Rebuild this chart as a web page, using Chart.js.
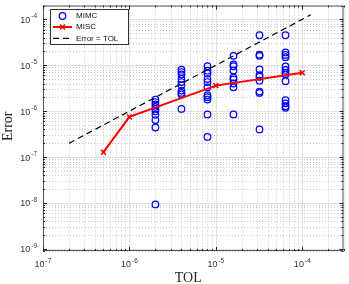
<!DOCTYPE html>
<html><head><meta charset="utf-8">
<script src="https://cdn.jsdelivr.net/npm/chart.js@4/dist/chart.umd.min.js"></script>
<style>html,body{margin:0;padding:0;background:#fff;}#wrap{width:349px;height:284px;position:relative;}</style>
</head><body><div id="wrap"><canvas id="c" width="349" height="284"></canvas></div>
<script>
// ---- data ----
const tolMIMC = [2e-6, 4e-6, 8e-6, 1.6e-5, 3.2e-5, 6.4e-5];
const errMIMC_tol1 = [1.79e-6, 1.58e-6, 1.40e-6, 1.24e-6, 1.12e-6, 9.9e-7, 8.3e-7, 6.4e-7, 4.4e-7, 9.3e-9];
const errMIMC_tol2 = [8.0e-6, 7.1e-6, 6.3e-6, 5.0e-6, 4.3e-6, 3.7e-6, 2.8e-6, 2.5e-6, 2.3e-6, 1.12e-6];
const errMIMC_tol3 = [9.5e-6, 7.6e-6, 6.6e-6, 5.0e-6, 4.3e-6, 3.3e-6, 2.23e-6, 2.02e-6, 1.79e-6, 8.5e-7, 2.75e-7];
const errMIMC_tol4 = [1.6e-5, 1.04e-5, 9.5e-6, 7.7e-6, 5.4e-6, 4.9e-6, 4.0e-6, 3.3e-6, 8.5e-7];
const errMIMC_tol5 = [4.5e-5, 1.7e-5, 1.6e-5, 8.1e-6, 6.1e-6, 5.6e-6, 4.6e-6, 2.67e-6, 2.5e-6, 4.0e-7];
const errMIMC_tol6 = [4.5e-5, 1.9e-5, 1.68e-5, 1.5e-5, 9.4e-6, 7.9e-6, 6.9e-6, 6.3e-6, 4.5e-6, 1.74e-6, 1.48e-6, 1.28e-6, 1.18e-6];
const errMIMC = [errMIMC_tol1, errMIMC_tol2, errMIMC_tol3, errMIMC_tol4, errMIMC_tol5, errMIMC_tol6];

const tolMISC = [5e-7, 1e-6, 1e-5, 1e-4];
const errMISC = [1.28e-7, 7.5e-7, 3.6e-6, 6.9e-6];

const tolRef = [2e-7, 1.25e-4];   // Error = TOL

const xRange = [1e-7, 3e-4];
const yRange = [9e-10, 2e-4];
const labels = ['MIMC', 'MISC', 'Error = TOL'];
const xTitle = 'TOL';
const yTitle = 'Error';

// ---- build ----
const mimcPts = [];
tolMIMC.forEach((t, i) => errMIMC[i].forEach(e => mimcPts.push({x: t, y: e})));
const miscPts = tolMISC.map((t, i) => ({x: t, y: errMISC[i]}));
const refPts = tolRef.map(t => ({x: t, y: t}));

const SANS = '"Liberation Sans", Arial, Helvetica, sans-serif';
const SERIF = '"Liberation Serif", "Times New Roman", serif';
const AXC = '#262626';

function logVals(sc) {
  const out = [];
  const n0 = Math.floor(Math.log10(sc.min)), n1 = Math.ceil(Math.log10(sc.max));
  for (let n = n0; n <= n1; n++) for (let m = 1; m <= 9; m++) {
    const v = m * Math.pow(10, n);
    if (v >= sc.min * 0.9999 && v <= sc.max * 1.0001) out.push({v, n, major: m === 1});
  }
  return out;
}

function drawPow(ctx, n, x, y, mode) {
  const base = '10', sup = String(n);
  ctx.font = '9px ' + SANS;
  const wb = ctx.measureText(base).width;
  ctx.font = '6.5px ' + SANS;
  const ws = ctx.measureText(sup).width;
  const tot = wb + ws + 1;
  let x0 = mode === 'center' ? x - tot / 2 : x - tot;
  ctx.fillStyle = '#333';
  ctx.textAlign = 'left';
  ctx.textBaseline = 'alphabetic';
  ctx.font = '9px ' + SANS;
  ctx.fillText(base, x0, y);
  ctx.font = '6.5px ' + SANS;
  ctx.fillText(sup, x0 + wb + 1, y - 4.5);
}

const matlabAxes = {
  id: 'matlabAxes',
  beforeDatasetsDraw(chart) {
    const {ctx, chartArea: a, scales} = chart;
    const xs = scales.x, ys = scales.y;
    ctx.save();
    ctx.lineWidth = 1;
    ctx.setLineDash([1, 2]);
    ctx.strokeStyle = '#c8c8c8';
    logVals(xs).filter(t => !t.major).forEach(t => {
      const p = Math.round(xs.getPixelForValue(t.v)) + 0.5;
      ctx.beginPath(); ctx.moveTo(p, a.top); ctx.lineTo(p, a.bottom); ctx.stroke();
    });
    logVals(ys).filter(t => !t.major).forEach(t => {
      const p = Math.round(ys.getPixelForValue(t.v)) + 0.5;
      ctx.beginPath(); ctx.moveTo(a.left, p); ctx.lineTo(a.right, p); ctx.stroke();
    });
    ctx.setLineDash([]);
    ctx.strokeStyle = '#e0e0e0';
    logVals(xs).filter(t => t.major).forEach(t => {
      const p = Math.round(xs.getPixelForValue(t.v)) + 0.5;
      ctx.beginPath(); ctx.moveTo(p, a.top); ctx.lineTo(p, a.bottom); ctx.stroke();
    });
    logVals(ys).filter(t => t.major).forEach(t => {
      const p = Math.round(ys.getPixelForValue(t.v)) + 0.5;
      ctx.beginPath(); ctx.moveTo(a.left, p); ctx.lineTo(a.right, p); ctx.stroke();
    });
    ctx.restore();
  },
  afterDatasetsDraw(chart) {
    const {ctx, chartArea: a, scales} = chart;
    const xs = scales.x, ys = scales.y;
    ctx.save();
    ctx.strokeStyle = '#555';
    ctx.lineWidth = 1;
    ctx.strokeRect(a.left + 0.5, a.top + 0.5, a.right - a.left - 1, a.bottom - a.top - 1);
    ctx.strokeStyle = AXC;
    logVals(xs).forEach(t => {
      const p = Math.round(xs.getPixelForValue(t.v)) + 0.5;
      const L = t.major ? 4 : 2;
      ctx.beginPath();
      ctx.moveTo(p, a.bottom); ctx.lineTo(p, a.bottom - L);
      ctx.moveTo(p, a.top); ctx.lineTo(p, a.top + L);
      ctx.stroke();
    });
    logVals(ys).forEach(t => {
      const p = Math.round(ys.getPixelForValue(t.v)) + 0.5;
      const L = t.major ? 4 : 2;
      ctx.beginPath();
      ctx.moveTo(a.left, p); ctx.lineTo(a.left + L, p);
      ctx.moveTo(a.right, p); ctx.lineTo(a.right - L, p);
      ctx.stroke();
    });
    logVals(xs).filter(t => t.major).forEach(t => {
      drawPow(ctx, t.n, xs.getPixelForValue(t.v), a.bottom + 16, 'center');
    });
    logVals(ys).filter(t => t.major).forEach(t => {
      drawPow(ctx, t.n, a.left - 6, ys.getPixelForValue(t.v) + 3.5, 'right');
    });
    ctx.fillStyle = AXC;
    ctx.font = '14px ' + SERIF;
    ctx.textAlign = 'center';
    ctx.textBaseline = 'alphabetic';
    ctx.fillText(xTitle, (a.left + a.right) / 2 - 5, 282);
    ctx.save();
    ctx.translate(12, (a.top + a.bottom) / 2 - 2);
    ctx.rotate(-Math.PI / 2);
    ctx.fillText(yTitle, 0, 0);
    ctx.restore();
    // legend
    const lx = 50.5, ly = 9.5, lw = 78, lh = 35;
    ctx.fillStyle = '#fff';
    ctx.fillRect(lx, ly, lw, lh);
    ctx.strokeStyle = '#333';
    ctx.lineWidth = 1;
    ctx.strokeRect(lx, ly, lw, lh);
    const rows = [16, 27, 38.3];
    const ds = chart.data.datasets;
    const byLabel = l => ds.find(d => d.label === l);
    ctx.font = '8px ' + SANS;
    ctx.textAlign = 'left';
    ctx.textBaseline = 'middle';
    let d = byLabel(labels[0]);
    ctx.strokeStyle = d.borderColor; ctx.lineWidth = 1.2;
    ctx.beginPath(); ctx.arc(62.5, rows[0], 3.3, 0, Math.PI * 2); ctx.stroke();
    d = byLabel(labels[1]);
    ctx.strokeStyle = d.borderColor; ctx.lineWidth = 2;
    ctx.beginPath(); ctx.moveTo(53, rows[1]); ctx.lineTo(72, rows[1]); ctx.stroke();
    ctx.lineWidth = 1.5;
    Chart.helpers.drawPoint(ctx, {pointStyle: 'crossRot', radius: 3.5, borderWidth: 1.5}, 62.5, rows[1]);
    d = byLabel(labels[2]);
    ctx.strokeStyle = d.borderColor; ctx.lineWidth = 1.2;
    ctx.setLineDash([6, 4]);
    ctx.beginPath(); ctx.moveTo(53, rows[2]); ctx.lineTo(72, rows[2]); ctx.stroke();
    ctx.setLineDash([]);
    ctx.fillStyle = '#111';
    labels.forEach((l, i) => ctx.fillText(l, 76, rows[i]));
    ctx.restore();
  }
};

new Chart(document.getElementById('c'), {
  type: 'scatter',
  data: {
    datasets: [
      {label: labels[1], data: miscPts, showLine: true, borderColor: '#ff0000', backgroundColor: '#ff0000',
       borderWidth: 2, pointStyle: 'crossRot', pointRadius: 3.5, pointBorderWidth: 1.5, order: 0},
      {label: labels[2], data: refPts, showLine: true, borderColor: '#000000', backgroundColor: '#000000',
       borderWidth: 1.2, borderDash: [6, 4], pointRadius: 0, order: 1},
      {label: labels[0], data: mimcPts, showLine: false, borderColor: '#0000ff', backgroundColor: 'rgba(0,0,0,0)',
       pointStyle: 'circle', pointRadius: 3.3, pointBorderWidth: 1.2, order: 2}
    ]
  },
  options: {
    responsive: false,
    animation: false,
    devicePixelRatio: 1,
    layout: {padding: 0},
    plugins: {legend: {display: false}, tooltip: {enabled: false}},
    scales: {
      x: {type: 'logarithmic', min: xRange[0], max: xRange[1],
          ticks: {display: false}, grid: {display: false}, border: {display: false},
          afterFit(s) { s.height = 33; }},
      y: {type: 'logarithmic', min: yRange[0], max: yRange[1],
          ticks: {display: false}, grid: {display: false}, border: {display: false},
          afterFit(s) { s.width = 43; }}
    }
  },
  plugins: [matlabAxes]
});
</script>
</body></html>
